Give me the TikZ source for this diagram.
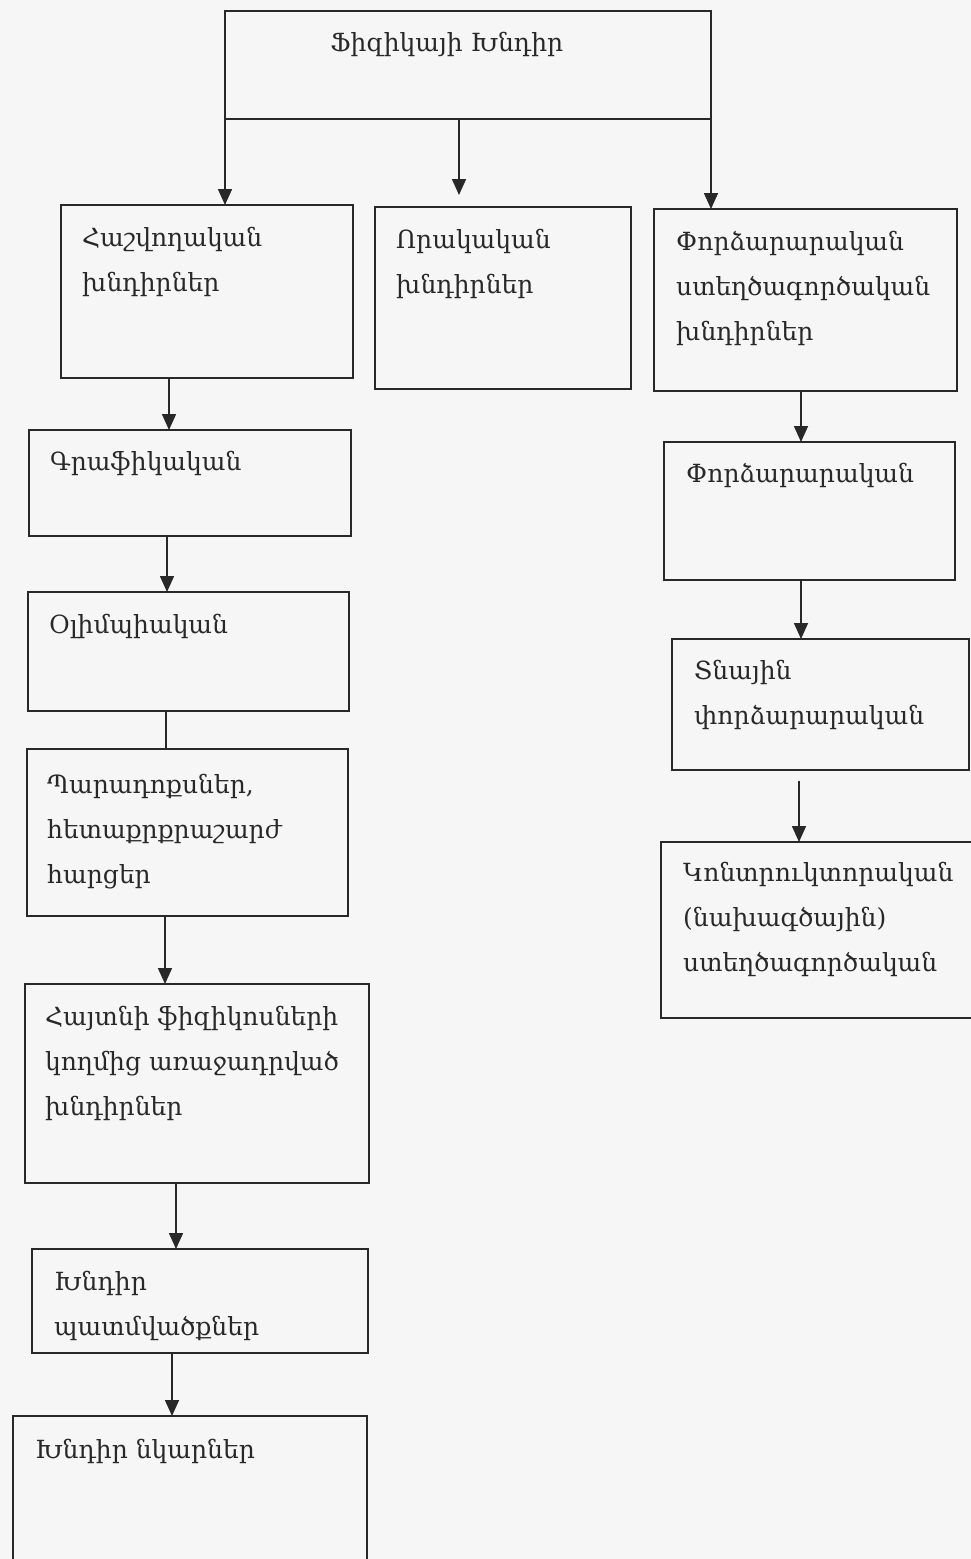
\documentclass[tikz,border=0pt]{standalone}
\usepackage{fontspec}
\newfontfamily\arm{DejaVu Serif}
\usetikzlibrary{arrows.meta}
\definecolor{paper}{RGB}{246,246,246}
\definecolor{ink}{RGB}{40,40,40}
\tikzset{
  box/.style={draw=ink, line width=1.8pt, anchor=north west, inner sep=0pt, outer sep=0pt, fill=none},
  txt/.style={anchor=north west, align=left, inner sep=0pt, font=\arm\fontsize{25}{45}\selectfont, text=ink},
  arr/.style={draw=ink, line width=1.6pt, -{Triangle[width=14pt,length=16pt]}},
  ln/.style={draw=ink, line width=1.6pt}
}
\begin{document}
\begin{tikzpicture}[x=1pt,y=-1pt]
\useasboundingbox (0,0) rectangle (971,1559);
\fill[paper] (0,0) rectangle (971,1559);
\clip (0,0) rectangle (971,1559);
% columns
\coordinate (cm) at (459,0);
\coordinate (c1) at (169,0);
\coordinate (c2) at (167,0);
\coordinate (c3) at (166,0);
\coordinate (c4) at (165,0);
\coordinate (c5) at (176,0);
\coordinate (c6) at (172,0);
\coordinate (cr1) at (801,0);
\coordinate (cr2) at (799,0);
% boxes
\node[box, minimum width=486pt, minimum height=108pt] (top) at (225,11) {};
\node[box, minimum width=292pt, minimum height=173pt] (b1) at (61,205) {};
\node[box, minimum width=256pt, minimum height=182pt] (b2) at (375,207) {};
\node[box, minimum width=303pt, minimum height=182pt] (b3) at (654,209) {};
\node[box, minimum width=322pt, minimum height=106pt] (b4) at (29,430) {};
\node[box, minimum width=321pt, minimum height=119pt] (b5) at (28,592) {};
\node[box, minimum width=321pt, minimum height=167pt] (b6) at (27,749) {};
\node[box, minimum width=344pt, minimum height=199pt] (b7) at (25,984) {};
\node[box, minimum width=336pt, minimum height=104pt] (b8) at (32,1249) {};
\node[box, minimum width=354pt, minimum height=200pt] (b9) at (13,1416) {};
\node[box, minimum width=291pt, minimum height=138pt] (r1) at (664,442) {};
\node[box, minimum width=297pt, minimum height=131pt] (r2) at (672,639) {};
\node[box, minimum width=330pt, minimum height=176pt] (r3) at (661,842) {};
% texts
\node[txt] (ttop) at (330,32) {Ֆիզիկայի Խնդիր};
\node[txt] (t1) at (82,227) {Հաշվողական\\խնդիրներ};
\node[txt] (t2) at (396,229) {Որակական\\խնդիրներ};
\node[txt] (t3) at (676,231) {Փորձարարական\\ստեղծագործական\\խնդիրներ};
\node[txt] (t4) at (50,451) {Գրաֆիկական};
\node[txt] (t5) at (49,614) {Օլիմպիական};
\node[txt] (t6) at (47,774) {Պարադոքսներ,\\հետաքրքրաշարժ\\հարցեր};
\node[txt] (t7) at (45,1006) {Հայտնի ֆիզիկոսների\\կողմից առաջադրված\\խնդիրներ};
\node[txt] (t8) at (54,1271) {Խնդիր\\պատմվածքներ};
\node[txt] (t9) at (35,1439) {Խնդիր նկարներ};
\node[txt] (tr1) at (686,463) {Փորձարարական};
\node[txt] (tr2) at (694,660) {Տնային\\փորձարարական};
\node[txt] (tr3) at (683,862) {Կոնտրուկտորական\\(նախագծային)\\ստեղծագործական};
% connectors
\draw[arr] (top.south west) -- (top.south west |- b1.north);
\draw[arr] (top.south -| cm) -- ([yshift=12pt]b2.north -| cm);
\draw[arr] (top.south east) -- (top.south east |- b3.north);
\draw[arr] (b1.south -| c1) -- (b4.north -| c1);
\draw[arr] (b4.south -| c2) -- (b5.north -| c2);
\draw[ln] (b5.south -| c3) -- (b6.north -| c3);
\draw[arr] (b6.south -| c4) -- (b7.north -| c4);
\draw[arr] (b7.south -| c5) -- (b8.north -| c5);
\draw[arr] (b8.south -| c6) -- (b9.north -| c6);
\draw[arr] (b3.south -| cr1) -- (r1.north -| cr1);
\draw[arr] (r1.south -| cr1) -- (r2.north -| cr1);
\draw[arr] ([yshift=-11pt]r2.south -| cr2) -- (r3.north -| cr2);
\end{tikzpicture}
\end{document}
